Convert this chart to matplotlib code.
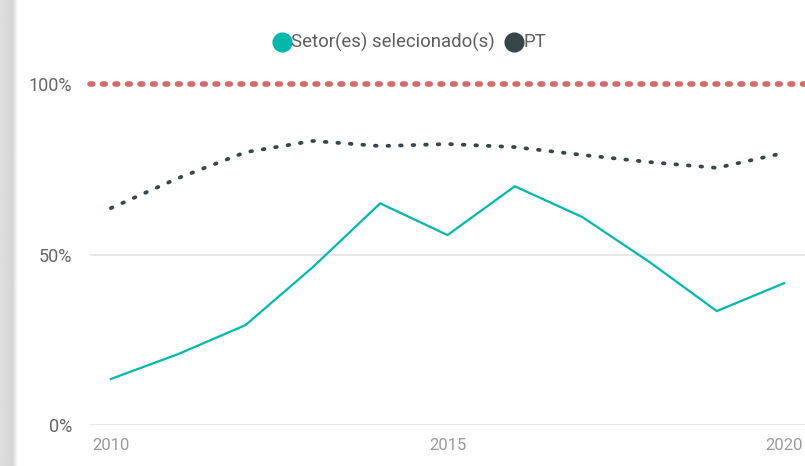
import matplotlib.pyplot as plt
import numpy as np

plt.rcParams['font.family'] = ['Roboto', 'DejaVu Sans']

anos = [2010, 2011, 2012, 2013, 2014, 2015, 2016, 2017, 2018, 2019, 2020]
setor = [13.5, 20.8, 29.3, 46.3, 65.0, 55.7, 70.0, 61.0, 47.8, 33.4, 41.6]
pt = [63.6, 72.4, 80.0, 83.3, 81.8, 82.4, 81.5, 79.2, 77.1, 75.4, 79.8]
meta = 100
y_ticks = [0, 50, 100]
y_labels = ['0%', '50%', '100%']
x_ticks = [2010, 2015, 2020]
nomes = ['Setor(es) selecionado(s)', 'PT']
cores = ['#01B8AA', '#374649']

W, H = 805, 466
fig = plt.figure(figsize=(W / 100, H / 100), dpi=100)

# faixa de sombra na esquerda
sh = fig.add_axes([0, 0, 18 / W, 1])
grad = np.concatenate([np.linspace(0.87, 0.84, 13), np.linspace(0.9, 1.0, 5)])
sh.imshow(grad[np.newaxis, :], cmap='gray', vmin=0, vmax=1, aspect='auto',
          extent=[0, 1, 0, 1])
sh.axis('off')

ax = fig.add_axes([90 / W, (H - 425) / H, 715 / W, (425 - 84) / H])
ax.set_xlim(2009.69, 2020.31)
ax.set_ylim(0, 100)

for v in [0, 50]:
    ax.axhline(v, color='#E6E6E6', lw=1.3, zorder=1)

ax.axhline(meta, color='#D26B69', lw=4.0, linestyle=(0, (0.5, 1.75)),
           dash_capstyle='round', clip_on=False, zorder=2)
ax.plot(anos, pt, color=cores[1], lw=2.7, linestyle=(0, (0.45, 2.9)),
        dash_capstyle='round', clip_on=False, zorder=3)
ax.plot(anos, setor, color=cores[0], lw=1.6, zorder=4)

for s in ax.spines.values():
    s.set_visible(False)
ax.set_yticks(y_ticks)
ax.set_yticklabels(y_labels)
ax.set_xticks(x_ticks)
ax.set_xticklabels([str(x) for x in x_ticks])
ax.tick_params(axis='y', length=0, pad=13, labelsize=13, labelcolor='#666666')
ax.tick_params(axis='x', length=0, pad=9, labelsize=12, labelcolor='#999999')

# legenda (camada em pixels)
lg = fig.add_axes([0, 0, 1, 1])
lg.set_xlim(0, W)
lg.set_ylim(H, 0)
lg.axis('off')
lg.plot([282], [42], 'o', ms=13.5, color=cores[0])
lg.text(291, 42, nomes[0], fontsize=13.4, color='#605E5C', va='center', ha='left')
lg.plot([514], [42], 'o', ms=13.5, color=cores[1])
lg.text(523, 42, nomes[1], fontsize=13.4, color='#605E5C', va='center', ha='left')

fig.savefig('out.png', dpi=100)
